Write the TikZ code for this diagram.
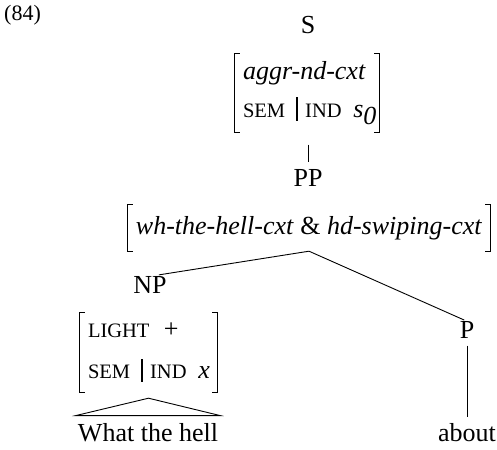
\documentclass[tikz,border=0pt]{standalone}
\usepackage{fontspec}
\setmainfont{Liberation Serif}
\newcommand{\fsc}[1]{{\fontsize{20.5}{22}\selectfont #1}}
\newcommand{\pbar}{\hspace{0.42em}\rule[-0.12em]{0.07em}{0.9em}\hspace{0.28em}}
\newcommand{\avmbr}[1]{%
  \draw[brk] ([xshift=5pt]#1.north west) -- (#1.north west) -- (#1.south west) -- ([xshift=5pt]#1.south west);
  \draw[brk] ([xshift=-5pt]#1.north east) -- (#1.north east) -- (#1.south east) -- ([xshift=-5pt]#1.south east);}
\begin{document}
\begin{tikzpicture}[x=1pt,y=-1pt,
  every node/.style={font=\fontsize{26}{30}\selectfont, inner sep=0pt},
  avm/.style={align=left, inner xsep=0pt},
  brk/.style={line width=0.9pt},
  edge/.style={line width=0.9pt}]
\useasboundingbox (0,0) rectangle (497,449);
\node[anchor=base west, font=\fontsize{22}{24}\selectfont] (num) at (4,21) {(84)};
\node (S) at (308,25) {S};
\node[avm, font=\fontsize{26}{38}\selectfont, minimum width=144pt, minimum height=79pt, text width=144pt] (A1) at (307,93)
  {\hspace*{8pt}\textit{aggr-nd-cxt}\\ \hspace*{8pt}\fsc{SEM}\pbar\fsc{IND}\hspace{0.45em}\textit{s}\raisebox{-0.24em}{\textit{0}}};
\node (PP) at (308,178) {PP};
\node[avm, align=center, minimum width=362pt, minimum height=46pt] (A2) at (309,228)
  {\textit{wh-the-hell-cxt} \& \textit{hd-swiping-cxt}};
\node (NP) at (150,285) {NP};
\node[avm, font=\fontsize{26}{41}\selectfont, minimum width=137pt, minimum height=79pt, text width=137pt] (A3) at (148.5,352.5)
  {\hspace*{8pt}\fsc{LIGHT}\hspace{0.55em}+\\ \hspace*{8pt}\fsc{SEM}\pbar\fsc{IND}\hspace{0.45em}\textit{x}};
\node (P) at (467,330) {P};
\node (W) at (148,433) {What the hell};
\node (about) at (467,433) {about};
\avmbr{A1}
\avmbr{A2}
\avmbr{A3}
\draw[edge, shorten <=12pt, shorten >=7pt] (PP.north |- A1.south) -- (PP.north);
\draw[edge, shorten >=9pt] (A2.south) -- (NP.north);
\draw[edge, shorten >=3pt] (A2.south) -- (P.north);
\draw[edge, shorten <=7pt, shorten >=7pt] (P.south) -- (about.north);
\draw[edge] ([shift={(-2pt,8pt)}]W.north west) -- ([yshift=-6pt]A3.south) -- ([shift={(2pt,8pt)}]W.north east) -- cycle;
\end{tikzpicture}
\end{document}
